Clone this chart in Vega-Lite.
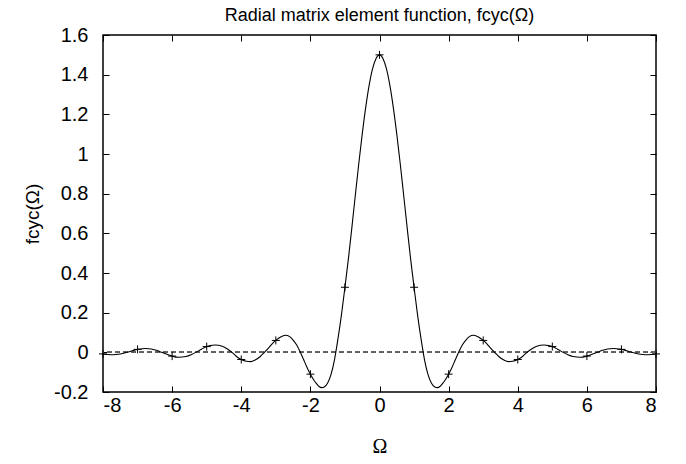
{
  "$schema": "https://vega.github.io/schema/vega-lite/v6.json",
  "width": 553,
  "height": 357,
  "autosize": "none",
  "padding": {"left": 103, "top": 35, "right": 30, "bottom": 72},
  "title": {"text": "Radial matrix element function, fcyc(Ω)", "fontSize": 18, "fontWeight": "normal", "font": "Liberation Sans", "color": "black", "anchor": "middle", "offset": 0},
  "datasets": {
    "curve": [
      {"w": -8.0, "f": -0.008}, {"w": -7.85, "f": -0.011}, {"w": -7.7, "f": -0.012}, {"w": -7.5, "f": -0.008},
      {"w": -7.3, "f": 0.0}, {"w": -7.15, "f": 0.008}, {"w": -7.0, "f": 0.015}, {"w": -6.9, "f": 0.017},
      {"w": -6.77, "f": 0.019}, {"w": -6.6, "f": 0.017}, {"w": -6.45, "f": 0.01}, {"w": -6.3, "f": 0.0},
      {"w": -6.15, "f": -0.01}, {"w": -6.0, "f": -0.019}, {"w": -5.81, "f": -0.025}, {"w": -5.6, "f": -0.021},
      {"w": -5.45, "f": -0.012}, {"w": -5.3, "f": 0.001}, {"w": -5.15, "f": 0.016}, {"w": -5.0, "f": 0.029},
      {"w": -4.9, "f": 0.034}, {"w": -4.76, "f": 0.037}, {"w": -4.55, "f": 0.031}, {"w": -4.4, "f": 0.017},
      {"w": -4.25, "f": -0.003}, {"w": -4.1, "f": -0.026}, {"w": -4.0, "f": -0.036}, {"w": -3.85, "f": -0.045},
      {"w": -3.73, "f": -0.047}, {"w": -3.6, "f": -0.039}, {"w": -3.45, "f": -0.021}, {"w": -3.33, "f": 0.0},
      {"w": -3.2, "f": 0.024}, {"w": -3.1, "f": 0.044}, {"w": -3.0, "f": 0.06}, {"w": -2.85, "f": 0.078},
      {"w": -2.72, "f": 0.086}, {"w": -2.6, "f": 0.079}, {"w": -2.5, "f": 0.062}, {"w": -2.4, "f": 0.038},
      {"w": -2.3, "f": 0.004}, {"w": -2.2, "f": -0.035}, {"w": -2.1, "f": -0.075}, {"w": -2.0, "f": -0.11},
      {"w": -1.85, "f": -0.152}, {"w": -1.75, "f": -0.172}, {"w": -1.67, "f": -0.178}, {"w": -1.6, "f": -0.175},
      {"w": -1.5, "f": -0.155}, {"w": -1.4, "f": -0.11}, {"w": -1.3, "f": -0.035}, {"w": -1.2, "f": 0.07},
      {"w": -1.1, "f": 0.19}, {"w": -1.0, "f": 0.328}, {"w": -0.9, "f": 0.471}, {"w": -0.8, "f": 0.629},
      {"w": -0.7, "f": 0.791}, {"w": -0.6, "f": 0.951}, {"w": -0.5, "f": 1.1}, {"w": -0.4, "f": 1.234},
      {"w": -0.3, "f": 1.346}, {"w": -0.2, "f": 1.43}, {"w": -0.1, "f": 1.482}, {"w": 0.0, "f": 1.5},
      {"w": 0.1, "f": 1.482}, {"w": 0.2, "f": 1.43}, {"w": 0.3, "f": 1.346}, {"w": 0.4, "f": 1.234},
      {"w": 0.5, "f": 1.1}, {"w": 0.6, "f": 0.951}, {"w": 0.7, "f": 0.791}, {"w": 0.8, "f": 0.629},
      {"w": 0.9, "f": 0.471}, {"w": 1.0, "f": 0.328}, {"w": 1.1, "f": 0.19}, {"w": 1.2, "f": 0.07},
      {"w": 1.3, "f": -0.035}, {"w": 1.4, "f": -0.11}, {"w": 1.5, "f": -0.155}, {"w": 1.6, "f": -0.175},
      {"w": 1.67, "f": -0.178}, {"w": 1.75, "f": -0.172}, {"w": 1.85, "f": -0.152}, {"w": 2.0, "f": -0.11},
      {"w": 2.1, "f": -0.075}, {"w": 2.2, "f": -0.035}, {"w": 2.3, "f": 0.004}, {"w": 2.4, "f": 0.038},
      {"w": 2.5, "f": 0.062}, {"w": 2.6, "f": 0.079}, {"w": 2.72, "f": 0.086}, {"w": 2.85, "f": 0.078},
      {"w": 3.0, "f": 0.06}, {"w": 3.1, "f": 0.044}, {"w": 3.2, "f": 0.024}, {"w": 3.33, "f": 0.0},
      {"w": 3.45, "f": -0.021}, {"w": 3.6, "f": -0.039}, {"w": 3.73, "f": -0.047}, {"w": 3.85, "f": -0.045},
      {"w": 4.0, "f": -0.036}, {"w": 4.1, "f": -0.026}, {"w": 4.25, "f": -0.003}, {"w": 4.4, "f": 0.017},
      {"w": 4.55, "f": 0.031}, {"w": 4.76, "f": 0.037}, {"w": 4.9, "f": 0.034}, {"w": 5.0, "f": 0.029},
      {"w": 5.15, "f": 0.016}, {"w": 5.3, "f": 0.001}, {"w": 5.45, "f": -0.012}, {"w": 5.6, "f": -0.021},
      {"w": 5.81, "f": -0.025}, {"w": 6.0, "f": -0.019}, {"w": 6.15, "f": -0.01}, {"w": 6.3, "f": 0.0},
      {"w": 6.45, "f": 0.01}, {"w": 6.6, "f": 0.017}, {"w": 6.77, "f": 0.019}, {"w": 6.9, "f": 0.017},
      {"w": 7.0, "f": 0.015}, {"w": 7.15, "f": 0.008}, {"w": 7.3, "f": 0.0}, {"w": 7.5, "f": -0.008},
      {"w": 7.7, "f": -0.012}, {"w": 7.85, "f": -0.011}, {"w": 8.0, "f": -0.008}
    ],
    "pts": [
      {"w": -8, "f": -0.008}, {"w": -7, "f": 0.015}, {"w": -6, "f": -0.019}, {"w": -5, "f": 0.029},
      {"w": -4, "f": -0.036}, {"w": -3, "f": 0.06}, {"w": -2, "f": -0.11}, {"w": -1, "f": 0.328},
      {"w": 0, "f": 1.5}, {"w": 1, "f": 0.328}, {"w": 2, "f": -0.11}, {"w": 3, "f": 0.06},
      {"w": 4, "f": -0.036}, {"w": 5, "f": 0.029}, {"w": 6, "f": -0.019}, {"w": 7, "f": 0.015}, {"w": 8, "f": -0.008}
    ]
  },
  "layer": [
    {
      "data": {"name": "pts"},
      "mark": {"type": "rule", "color": "#606060", "strokeWidth": 1, "strokeDash": [5, 3]},
      "encoding": {
        "y": {"datum": 0, "type": "quantitative", "scale": {"domain": [-0.2, 1.6], "nice": false, "zero": false}, "axis": null}
      }
    },
    {
      "data": {"name": "curve"},
      "mark": {"type": "line", "color": "black", "strokeWidth": 1.1, "interpolate": "monotone"},
      "encoding": {
        "x": {"field": "w", "type": "quantitative", "scale": {"domain": [-8, 8], "nice": false, "zero": false},
              "axis": {"orient": "bottom", "values": [-8, -6, -4, -2, 0, 2, 4, 6, 8], "title": "Ω", "titleFont": "Liberation Serif", "titleFontSize": 20, "titlePadding": 21, "labelPadding": 9, "labelExpr": "'' + datum.value"}},
        "y": {"field": "f", "type": "quantitative", "scale": {"domain": [-0.2, 1.6], "nice": false, "zero": false},
              "axis": {"orient": "left", "values": [-0.2, 0, 0.2, 0.4, 0.6, 0.8, 1, 1.2, 1.4, 1.6], "title": "fcyc(Ω)", "titleFontSize": 19, "titlePadding": 11, "labelPadding": 21, "labelExpr": "'' + datum.value"}}
      }
    },
    {
      "data": {"name": "pts"},
      "mark": {"type": "point", "shape": "M-1,0L1,0M0,-1L0,1", "size": 64, "filled": false, "stroke": "black", "strokeWidth": 1, "opacity": 1},
      "encoding": {
        "x": {"field": "w", "type": "quantitative", "axis": {"orient": "top", "values": [-8, -6, -4, -2, 0, 2, 4, 6, 8], "labels": false, "title": null}},
        "y": {"field": "f", "type": "quantitative", "axis": {"orient": "right", "values": [-0.2, 0, 0.2, 0.4, 0.6, 0.8, 1, 1.2, 1.4, 1.6], "labels": false, "title": null}}
      }
    }
  ],
  "resolve": {"axis": {"x": "independent", "y": "independent"}},
  "config": {
    "font": "Liberation Sans",
    "view": {"stroke": "black", "strokeWidth": 1.5},
    "axis": {"grid": false, "domain": false, "tickColor": "black", "tickSize": -6, "tickWidth": 1, "labelFontSize": 20, "labelColor": "black", "labelFont": "Liberation Sans", "labelPadding": 8, "titleFontWeight": "normal", "titleFontSize": 18, "titleColor": "black", "titleFont": "Liberation Sans"}
  }
}
